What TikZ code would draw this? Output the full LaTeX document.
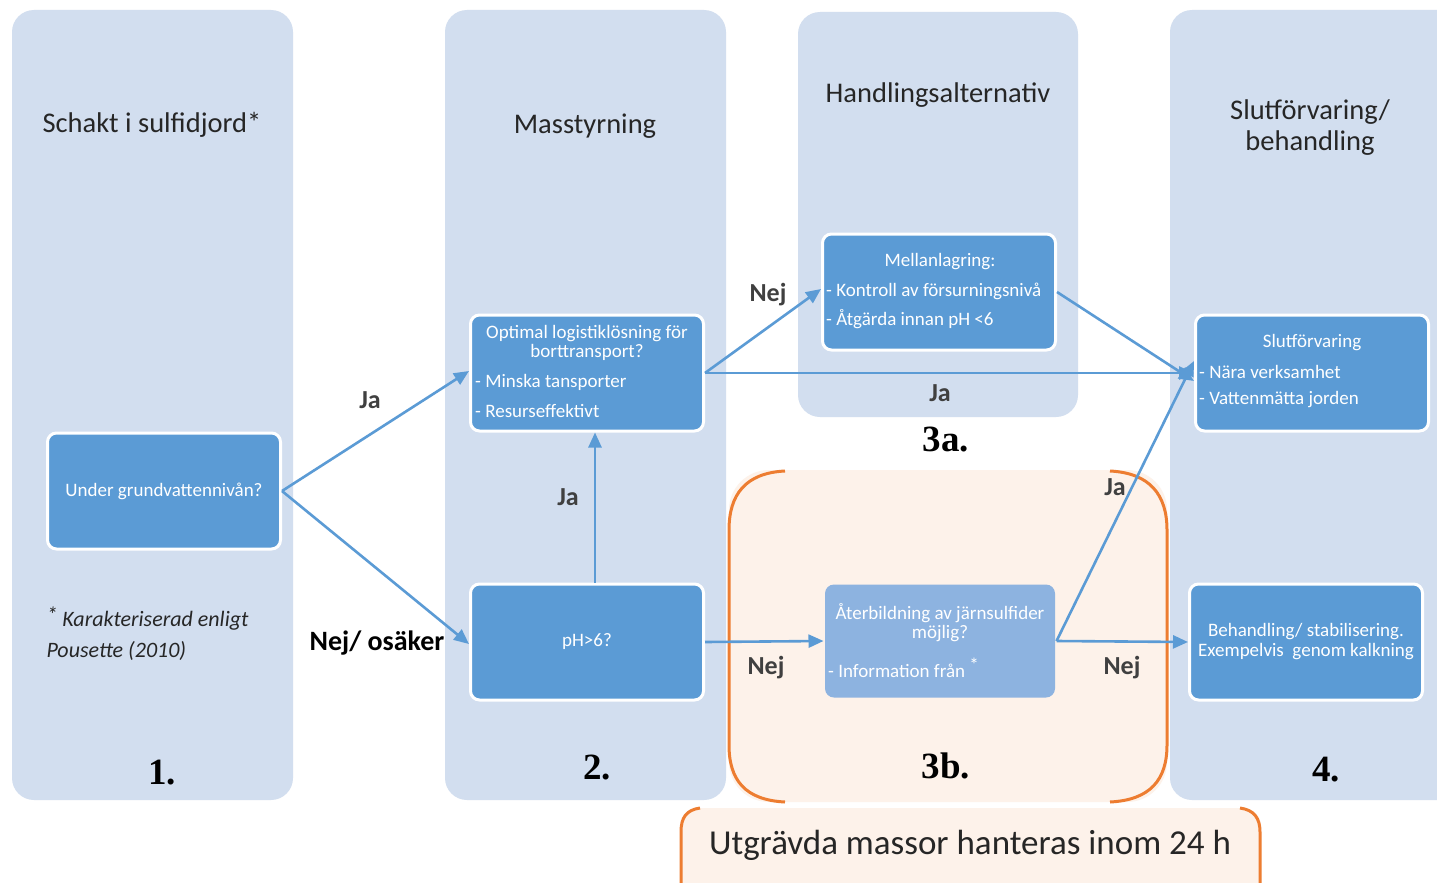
\documentclass[tikz,border=0pt]{standalone}
\usepackage{fontspec}
\setmainfont{Carlito}
\newfontfamily\numfont{Liberation Serif}
\usetikzlibrary{arrows.meta}
\definecolor{colbg}{RGB}{210,222,239}
\definecolor{boxblue}{RGB}{91,155,213}
\definecolor{paleblue}{RGB}{141,179,224}
\definecolor{flow}{RGB}{91,155,213}
\definecolor{sulforange}{RGB}{237,125,49}
\definecolor{peach}{RGB}{253,242,234}
\definecolor{headgray}{RGB}{38,38,38}
\definecolor{lblgray}{RGB}{64,64,64}
\tikzset{
  column/.style={fill=colbg, rounded corners=22pt},
  stepbox/.style={fill=boxblue, draw=white, line width=3pt, rounded corners=9pt,
    minimum width=233pt, minimum height=116pt, text=white, align=center,
    font=\fontsize{19}{20}\selectfont},
  softbox/.style={stepbox, fill=paleblue, draw=none, minimum width=230pt, minimum height=113pt},
  boxtxt/.style={text=white, font=\fontsize{19}{19}\selectfont, inner sep=0pt},
  heading/.style={text=headgray, font=\fontsize{28.5}{31}\selectfont, align=center},
  phase/.style={text=black, font=\numfont\bfseries\fontsize{37}{40}\selectfont},
  edgelbl/.style={text=lblgray, font=\bfseries\fontsize{26}{28}\selectfont},
  flowarrow/.style={draw=flow, line width=2.6pt,
    -{Triangle[length=15pt,width=13pt]}},
  bracket/.style={draw=sulforange, line width=3pt}
}
\begin{document}
\begin{tikzpicture}[x=1pt,y=-1pt]
\useasboundingbox (0,0) rectangle (1437,883);
\fill[white] (0,0) rectangle (1437,883);

% phase columns
\fill[column] (12,10) rectangle (293,800);
\fill[column] (445,10) rectangle (726,800);
\fill[column] (798,12) rectangle (1078,417);
\fill[column] (1170,10) rectangle (1470,800);

% phase 3b area with orange brackets
\fill[peach, rounded corners=40pt] (729,470) rectangle (1167,802);
\draw[bracket] (785,471) .. controls (745,473) and (729,495) .. (729,530)
  -- (729,745) .. controls (729,780) and (745,800) .. (785,802);
\draw[bracket] (1110,471) .. controls (1150,473) and (1167,495) .. (1167,530)
  -- (1167,745) .. controls (1167,780) and (1150,800) .. (1110,802);

% 24 h note
\fill[peach, rounded corners=18pt] (680,808) rectangle (1261,900);
\draw[bracket] (700,808) .. controls (686,810) and (681,818) .. (681,832) -- (681,890);
\draw[bracket] (1240,808) .. controls (1254,810) and (1260,818) .. (1260,832) -- (1260,890);
\node[text=headgray, font=\fontsize{35}{38}\selectfont] (note) at (970,845) {Utgrävda massor hanteras inom 24 h};

% headings
\node[heading] (h1) at (152,125) {Schakt i sulfidjord*};
\node[heading] (h2) at (585,126) {Masstyrning};
\node[heading] (h3) at (938,95) {Handlingsalternativ};
\node[heading] (h4) at (1310,128) {Slutförvaring/\\behandling};

% phase numbers
\node[phase] (p1) at (162,773) {1.};
\node[phase] (p2) at (597,768) {2.};
\node[phase] (p3a) at (946,440) {3a.};
\node[phase] (p3b) at (946,766) {3b.};
\node[phase] (p4) at (1326,770) {4.};

% footnote
\node[anchor=west, text=headgray, font=\itshape\fontsize{22}{24}\selectfont] (fn1) at (43,619) {\raisebox{4pt}{*} Karakteriserad enligt};
\node[anchor=west, text=headgray, font=\itshape\fontsize{22}{24}\selectfont] (fn2) at (43,651) {Pousette (2010)};

% decision boxes
\node[stepbox] (A) at (164,491) {Under grundvattennivån?};
\node[stepbox] (B) at (587,373) {};
\node[stepbox] (C) at (587,642) {pH>6?};
\node[stepbox] (D) at (939,292) {};
\node[softbox] (E) at (940,641) {};
\node[stepbox] (F) at (1312,373) {};
\node[stepbox] (G) at (1306,642) {Behandling/ stabilisering.\\Exempelvis\ \ genom kalkning};

% box contents
\node[boxtxt, align=center] (Bt) at (587,343) {Optimal logistiklösning för\\borttransport?};
\node[boxtxt, anchor=west] (Bb1) at (475,382) {- Minska tansporter};
\node[boxtxt, anchor=west] (Bb2) at (475,411) {- Resurseffektivt};

\node[boxtxt] (Dt) at (940,262) {Mellanlagring:};
\node[boxtxt, anchor=west] (Db1) at (826,291) {- Kontroll av försurningsnivå};
\node[boxtxt, anchor=west] (Db2) at (826,319) {- Åtgärda innan pH <6};

\node[boxtxt, align=center] (Et) at (940,623) {Återbildning av järnsulfider\\möjlig?};
\node[boxtxt, anchor=west] (Eb1) at (828,668) {- Information från \raisebox{6pt}{*}};

\node[boxtxt] (Ft) at (1312,343) {Slutförvaring};
\node[boxtxt, anchor=west] (Fb1) at (1199,372) {- Nära verksamhet};
\node[boxtxt, anchor=west] (Fb2) at (1199,400) {- Vattenmätta jorden};

% connectors
\draw[flowarrow] (A.east) -- ([yshift=2pt]B.west);
\draw[flowarrow] (A.east) -- ([yshift=-2pt]C.west);
\draw[flowarrow] ([xshift=8pt]C.north) -- ([xshift=8pt]B.south);
\draw[flowarrow] (B.east) -- ([yshift=3pt]D.west);
\draw[flowarrow] (B.east) -- (F.west);
\draw[flowarrow] (D.east) -- ([yshift=-8pt]F.west);
\draw[flowarrow] (C.east) -- (E.west);
\draw[flowarrow] (E.east) -- ([yshift=12pt]F.west);
\draw[flowarrow] (E.east) -- (G.west);

% connector labels
\node[edgelbl] (l1) at (370,400) {Ja};
\node[edgelbl, text=black, font=\bfseries\fontsize{28}{30}\selectfont] (l2) at (377,643) {Nej/ osäker};
\node[edgelbl] (l3) at (568,497) {Ja};
\node[edgelbl] (l4) at (768,295) {Nej};
\node[edgelbl] (l5) at (940,393) {Ja};
\node[edgelbl] (l6) at (766,668) {Nej};
\node[edgelbl] (l7) at (1115,487) {Ja};
\node[edgelbl] (l8) at (1122,668) {Nej};
\end{tikzpicture}
\end{document}
